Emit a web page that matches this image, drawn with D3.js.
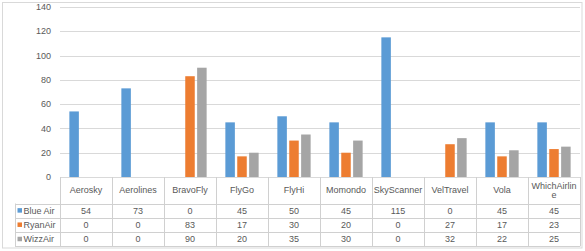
<!DOCTYPE html>
<html>
<head>
<meta charset="utf-8">
<script src="https://cdn.jsdelivr.net/npm/d3@7"></script>
<style>
  body { margin: 0; background: #fff; }
  svg text { font-family: "Liberation Sans", Arial, sans-serif; fill: #595959; }
</style>
</head>
<body>
<div id="graph-holder"></div>
<script>
const categories = ['Aerosky', 'Aerolines', 'BravoFly', 'FlyGo', 'FlyHi', 'Momondo', 'SkyScanner', 'VelTravel', 'Vola', 'WhichAirline'];
const headerLines = [['Aerosky'], ['Aerolines'], ['BravoFly'], ['FlyGo'], ['FlyHi'], ['Momondo'], ['SkyScanner'], ['VelTravel'], ['Vola'], ['WhichAirlin', 'e']];
const seriesNames = ['Blue Air', 'RyanAir', 'WizzAir'];
const blueAir = [54, 73, 0, 45, 50, 45, 115, 0, 45, 45];
const ryanAir = [0, 0, 83, 17, 30, 20, 0, 27, 17, 23];
const wizzAir = [0, 0, 90, 20, 35, 30, 0, 32, 22, 25];
const yTicks = [0, 20, 40, 60, 80, 100, 120, 140];
const colors = ['#5B9BD5', '#ED7D31', '#A5A5A5'];

const seriesValues = [blueAir, ryanAir, wizzAir];

const svgWidth = 585,
      svgHeight = 251;

const plot = { left: 60, right: 580, top: 7, bottom: 177 };

const svg = d3.select('#graph-holder')
              .append('svg')
              .attr('width', svgWidth)
              .attr('height', svgHeight);

// chart border
svg.append('rect')
  .attr('x', 2.5).attr('y', 2.5)
  .attr('width', 579.5).attr('height', 245.5)
  .attr('fill', 'none')
  .attr('stroke', '#D9D9D9');

const x0 = d3.scaleBand()
             .domain(categories)
             .range([plot.left, plot.right])
             .padding(0);

const groupWidth = x0.bandwidth() * 0.64;
const x1 = d3.scaleBand()
             .domain(seriesNames)
             .range([0, groupWidth])
             .paddingInner(0.2);

const y = d3.scaleLinear()
            .domain([0, 140])
            .range([plot.bottom, plot.top]);

// gridlines
svg.append('g')
  .selectAll('line')
  .data(yTicks)
  .enter()
  .append('line')
  .attr('x1', plot.left)
  .attr('x2', plot.right)
  .attr('y1', d => Math.round(y(d)) + 0.5)
  .attr('y2', d => Math.round(y(d)) + 0.5)
  .attr('stroke', '#D9D9D9');

// y labels
svg.append('g')
  .selectAll('text')
  .data(yTicks)
  .enter()
  .append('text')
  .attr('x', 51)
  .attr('y', d => y(d))
  .attr('dy', '0.35em')
  .attr('text-anchor', 'end')
  .attr('font-size', 9)
  .text(d => d);

// bars
const groups = svg.append('g')
  .selectAll('g')
  .data(categories)
  .enter()
  .append('g')
  .attr('transform', c => `translate(${x0(c) + (x0.bandwidth() - groupWidth) / 2},0)`);

groups.selectAll('rect')
  .data((c, i) => seriesNames.map((s, j) => ({ s, v: seriesValues[j][i], j })))
  .enter()
  .append('rect')
  .attr('x', d => x1(d.s))
  .attr('width', x1.bandwidth())
  .attr('y', d => y(d.v))
  .attr('height', d => y(0) - y(d.v))
  .attr('fill', d => colors[d.j]);

// data table
const headerBottom = 203.5;
const rowH = 14.3;
const tableBottom = headerBottom + rowH * seriesNames.length;
const tableLeft = 15;
const lineColor = '#D0D0D0';

const table = svg.append('g');

// vertical lines at category boundaries
const vx = categories.map(c => x0(c)).concat([plot.right]);
table.selectAll('line.v')
  .data(vx)
  .enter()
  .append('line')
  .attr('x1', d => Math.round(d) + 0.5)
  .attr('x2', d => Math.round(d) + 0.5)
  .attr('y1', plot.bottom)
  .attr('y2', tableBottom)
  .attr('stroke', lineColor);

// horizontal lines
const hy = d3.range(seriesNames.length + 1).map(i => headerBottom + i * rowH);
table.selectAll('line.h')
  .data(hy)
  .enter()
  .append('line')
  .attr('x1', tableLeft)
  .attr('x2', plot.right)
  .attr('y1', d => Math.round(d) + 0.5)
  .attr('y2', d => Math.round(d) + 0.5)
  .attr('stroke', lineColor);

table.append('line')
  .attr('x1', tableLeft + 0.5).attr('x2', tableLeft + 0.5)
  .attr('y1', headerBottom).attr('y2', tableBottom)
  .attr('stroke', lineColor);

// header labels
headerLines.forEach((lines, i) => {
  const cx = x0(categories[i]) + x0.bandwidth() / 2;
  const midY = (plot.bottom + headerBottom) / 2;
  lines.forEach((t, k) => {
    table.append('text')
      .attr('x', cx)
      .attr('y', midY + (k - (lines.length - 1) / 2) * 9.5)
      .attr('dy', '0.35em')
      .attr('text-anchor', 'middle')
      .attr('font-size', 9)
      .text(t);
  });
});

// series rows
seriesNames.forEach((s, j) => {
  const cy = headerBottom + rowH * j + rowH / 2;
  table.append('rect')
    .attr('x', 17.5)
    .attr('y', cy - 2.5)
    .attr('width', 4.5)
    .attr('height', 4.5)
    .attr('fill', colors[j]);
  table.append('text')
    .attr('x', 23.5)
    .attr('y', cy)
    .attr('dy', '0.35em')
    .attr('font-size', 9)
    .text(s);
  categories.forEach((c, i) => {
    table.append('text')
      .attr('x', x0(c) + x0.bandwidth() / 2)
      .attr('y', cy)
      .attr('dy', '0.35em')
      .attr('text-anchor', 'middle')
      .attr('font-size', 9)
      .text(seriesValues[j][i]);
  });
});
</script>
</body>
</html>
